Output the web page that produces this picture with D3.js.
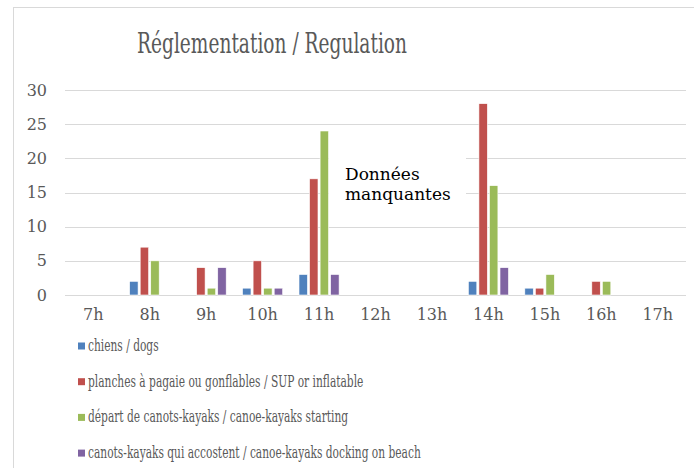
<!DOCTYPE html>
<html>
<head>
<meta charset="utf-8">
<script src="https://cdn.jsdelivr.net/npm/d3@7"></script>
<style>
  body { margin: 0; background: #fff; }
  svg { display: block; }
  svg text { font-family: "DejaVu Serif", serif; }
</style>
</head>
<body>
<div id="myPlot"></div>
<script>
// Set Dimensions
const width = 694;
const height = 468;

// Data
const hours = ["7h", "8h", "9h", "10h", "11h", "12h", "13h", "14h", "15h", "16h", "17h"];
const seriesNames = [
  "chiens / dogs",
  "planches à pagaie ou gonflables / SUP or inflatable",
  "départ de canots-kayaks / canoe-kayaks starting",
  "canots-kayaks qui accostent / canoe-kayaks docking on beach"
];
const colors = ["#4F81BD", "#C0504D", "#9BBB59", "#8064A2"];
// 12h and 13h : données manquantes (null)
const dogs      = [0, 2, 0, 1, 3, null, null, 2, 1, 0, 0];
const sup       = [0, 7, 4, 5, 17, null, null, 28, 1, 2, 0];
const starting  = [0, 5, 1, 1, 24, null, null, 16, 3, 2, 0];
const docking   = [0, 0, 4, 1, 3, null, null, 4, 0, 0, 0];
const yTicks = [0, 5, 10, 15, 20, 25, 30];
const title = "Réglementation / Regulation";
const missingNote = ["Données", "manquantes"];

const allSeries = [dogs, sup, starting, docking];

const svg = d3.select("#myPlot")
  .append("svg")
  .attr("width", width)
  .attr("height", height);

// chart frame
svg.append("rect")
  .attr("x", 13.5)
  .attr("y", 7.5)
  .attr("width", 700)
  .attr("height", 500)
  .attr("fill", "#fff")
  .attr("stroke", "#d9d9d9");

// Title
svg.append("text")
  .attr("x", 137)
  .attr("y", 53)
  .attr("textLength", 270)
  .attr("lengthAdjust", "spacingAndGlyphs")
  .style("font-size", "28px")
  .style("fill", "#595959")
  .text(title);

// Scales
const x = d3.scaleBand()
  .domain(hours)
  .range([65, 686])
  .paddingInner(0.29)
  .paddingOuter(0.145);

const xSub = d3.scaleBand()
  .domain(d3.range(allSeries.length))
  .range([0, x.bandwidth()])
  .paddingInner(0.2);

const y = d3.scaleLinear()
  .domain([0, 30])
  .range([295, 90]);

// Gridlines
svg.append("g")
  .selectAll("line")
  .data(yTicks)
  .enter()
  .append("line")
  .attr("x1", 65)
  .attr("x2", 686)
  .attr("y1", d => Math.round(y(d)) + 0.5)
  .attr("y2", d => Math.round(y(d)) + 0.5)
  .attr("stroke", "#d9d9d9")
  .attr("stroke-width", 1.2);

// Y Axis labels
const yAxis = svg.append("g")
  .attr("transform", "translate(55,0)")
  .call(d3.axisLeft(y).tickValues(yTicks).tickSize(0).tickPadding(8));
yAxis.select(".domain").remove();
yAxis.selectAll("text")
  .style("font-family", "'DejaVu Serif', serif")
  .style("font-size", "16px")
  .style("fill", "#595959");

// X Axis labels
const xAxis = svg.append("g")
  .attr("transform", "translate(0,295)")
  .call(d3.axisBottom(x).tickSize(0).tickPadding(14));
xAxis.select(".domain").remove();
xAxis.selectAll("text")
  .style("font-family", "'DejaVu Serif', serif")
  .style("font-size", "16px")
  .style("fill", "#595959");

// Bars
const barData = [];
allSeries.forEach((vals, s) => {
  vals.forEach((v, i) => {
    if (v != null && v > 0) barData.push({ s: s, hour: hours[i], value: v });
  });
});

svg.append("g")
  .selectAll(".bar")
  .data(barData)
  .enter()
  .append("rect")
  .attr("class", "bar")
  .attr("x", d => x(d.hour) + xSub(d.s))
  .attr("y", d => y(d.value))
  .attr("width", xSub.bandwidth())
  .attr("height", d => y(0) - y(d.value))
  .style("fill", d => colors[d.s])
  .style("stroke", "#fff")
  .style("stroke-width", 0.6);

// "Données manquantes" note box (covers gridlines)
svg.append("rect")
  .attr("x", 329)
  .attr("y", 145)
  .attr("width", 137)
  .attr("height", 65)
  .attr("fill", "#fff");

svg.append("text")
  .attr("x", 345)
  .attr("y", 180)
  .style("font-size", "17px")
  .style("fill", "#000")
  .selectAll("tspan")
  .data(missingNote)
  .enter()
  .append("tspan")
  .attr("x", 345)
  .attr("dy", (d, i) => i === 0 ? 0 : 20)
  .text(d => d);

// Legend
const legend = svg.append("g")
  .selectAll("g")
  .data(seriesNames)
  .enter()
  .append("g")
  .attr("transform", (d, i) => `translate(78, ${351 + i * 35.7})`);

legend.append("rect")
  .attr("x", 0)
  .attr("y", -8.5)
  .attr("width", 7)
  .attr("height", 7)
  .style("fill", (d, i) => colors[i]);

const legendText = legend.append("text")
  .attr("x", 0)
  .attr("y", 0)
  .style("font-size", "17px")
  .style("fill", "#595959")
  .text(d => d);

// squeeze the legend text to the reference width
const longest = d3.max(legendText.nodes(), n => n.getComputedTextLength());
const k = 333 / longest;
legendText.attr("transform", `translate(10,0) scale(${k},1)`);
</script>
</body>
</html>
